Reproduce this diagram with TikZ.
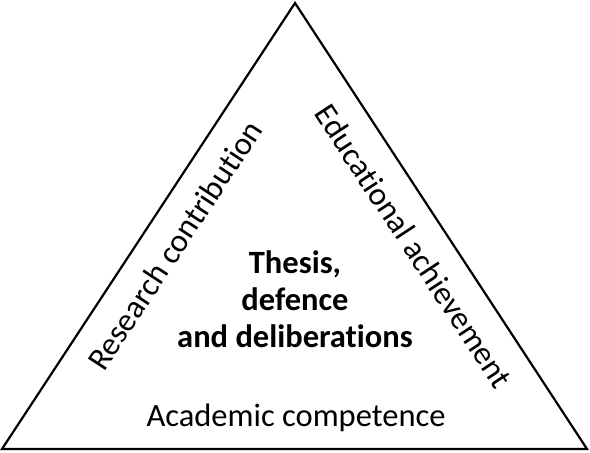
\documentclass[tikz,border=0pt]{standalone}
\usepackage{fontspec}
\setmainfont{Carlito}[Ligatures={NoCommon}]
\usepackage{tikz}

\begin{document}
\begin{tikzpicture}[x=1pt,y=1pt,
		side/.style={font=\fontsize{32.5}{37}\selectfont,inner sep=0pt},
		core/.style={font=\fontsize{32.5}{37}\selectfont\bfseries,align=center,inner sep=0pt}]
		\useasboundingbox (0,0) rectangle (590,453);
		% corners
		\coordinate (L) at (2,4);
		\coordinate (R) at (587,4);
		\coordinate (T) at (295,450);
		%
		\draw[line width=2.2pt,line join=miter] (L) -- (R) -- (T) -- cycle;
		% labels
		\node[core] (thesis) at (295,154) {Thesis,\\ defence\\ and deliberations};
		\node[side,anchor=base] (acad) at (296,26) {Academic competence};
		\node[side,rotate=56.7] (res) at (175,208) {Research contribution};
		\node[side,rotate=-56.7] (edu) at (414,207) {Educational achievement};
\end{tikzpicture}
\end{document}
